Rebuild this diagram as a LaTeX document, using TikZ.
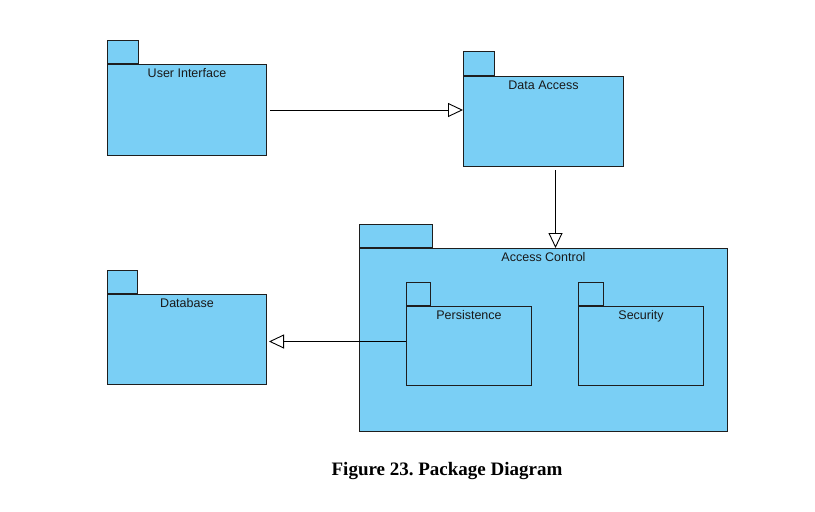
\documentclass[tikz,border=0pt]{standalone}
\usepackage{fontspec}
\setmainfont{Liberation Sans}
\newfontfamily\capfont{Liberation Serif}
\usetikzlibrary{arrows.meta,calc}
\definecolor{pkgblue}{RGB}{122,207,245}
\definecolor{pkgline}{RGB}{30,30,30}
\frenchspacing
\tikzset{
  pkgbody/.style={draw=pkgline, fill=pkgblue, line width=1pt, inner sep=0pt, anchor=north west},
  pkgtab/.style={draw=pkgline, fill=pkgblue, line width=1pt, inner sep=0pt, anchor=south west},
  pkglabel/.style={anchor=north, yshift=-1pt, font=\fontsize{12.5}{14}\selectfont, text=black!90},
  gen/.style={draw=black, line width=0.9pt, -{Triangle[open, length=15pt, width=14pt, fill=white]}},
}
\newcommand{\pkgdraw}[8]{%
  \node[pkgtab, minimum width=#6, minimum height=#7] (#1-tab) at (#2,#3) {};
  \node[pkgbody, minimum width=#4, minimum height=#5, label={[pkglabel]north:#8}] (#1) at (#2,#3) {};
}
\begin{document}
\begin{tikzpicture}[x=1pt,y=-1pt]
\useasboundingbox (0,0) rectangle (815,512);
\pkgdraw{ui}{107}{64}{159}{91}{31}{23}{User Interface}
\pkgdraw{da}{463}{76}{160}{90}{31}{24}{Data Access}
\pkgdraw{ac}{359}{248}{368}{183}{73}{23}{Access Control}
\pkgdraw{per}{406}{306}{125}{79}{24}{23}{Persistence}
\pkgdraw{sec}{578}{306}{125}{79}{25}{23}{Security}
\pkgdraw{db}{107}{294}{159}{90}{30}{23}{Database}
% connectors
\draw[gen] ([xshift=3pt]ui.east) -- (ui.east -| da.west);
\draw[gen] ([xshift=12pt,yshift=-3pt]da.south) -- ([xshift=12pt]da.south |- ac.north);
\draw[gen] ([yshift=4.5pt]per.west) -- ([yshift=4.5pt,xshift=2pt]per.west -| db.east);
% caption
\node[font=\capfont\bfseries\fontsize{19}{22}\selectfont] (cap) at (447,471) {Figure 23. Package Diagram};
\end{tikzpicture}
\end{document}
